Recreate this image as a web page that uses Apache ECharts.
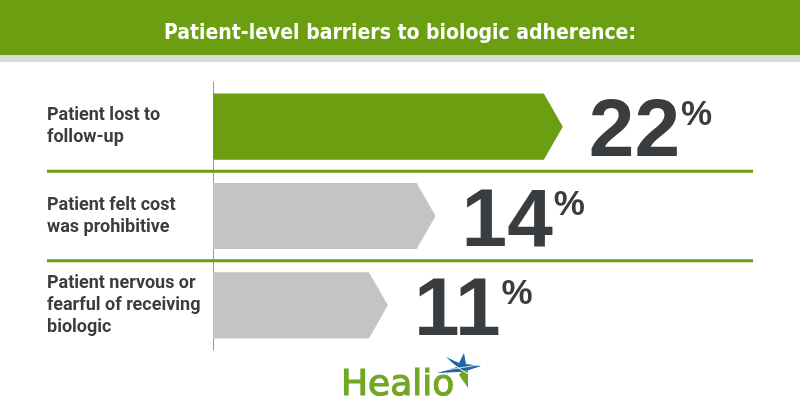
<!DOCTYPE html>
<html><head><meta charset="utf-8">
<script src="https://cdn.jsdelivr.net/npm/echarts@6/dist/echarts.min.js"></script>
<style>html,body{margin:0;padding:0;background:#fff}#c{width:800px;height:420px}</style>
</head><body><div id="c"></div>
<script>
// ---- data ----
const titleText = 'Patient-level barriers to biologic adherence:';
const categories = [
  'Patient lost to\nfollow-up',
  'Patient felt cost\nwas prohibitive',
  'Patient nervous or\nfearful of receiving\nbiologic'
];
const values = [22, 14, 11];
const brandText = 'Healio';

// ---- styles ----
const GREEN = '#6b9e11';
const GRAY = '#c4c4c4';
const DARK = '#3a3d3f';
const LOGO_GREEN = '#72a725';
const LOGO_BLUE = '#1f65a8';
const NUM_FONT = 'bold 82px "Liberation Sans"';

const measureCtx = document.createElement('canvas').getContext('2d');
function textWidth(str, font) { measureCtx.font = font; return measureCtx.measureText(str).width; }

const chart = echarts.init(document.getElementById('c'), null, {renderer: 'canvas'});

function renderItem(params, api) {
  const i = params.dataIndex;
  const v = api.value(0);
  const cat = api.value(1);
  const base = api.coord([0, cat]);
  const tip = api.coord([v, cat]);
  const band = api.size([0, 1])[1];
  const h = band * 0.74;
  const cy = tip[1], x0 = base[0], xt = tip[0], d = 19;
  const numX = xt + 26;
  const numW = textWidth(String(v), NUM_FONT);
  const children = [
    {
      type: 'polygon',
      shape: {points: [[x0, cy - h / 2], [xt - d, cy - h / 2], [xt, cy], [xt - d, cy + h / 2], [x0, cy + h / 2]]},
      style: {fill: i === 0 ? GREEN : GRAY}
    },
    {
      type: 'text',
      x: numX, y: cy + 7,
      style: {text: String(v), font: NUM_FONT, fill: DARK, align: 'left', verticalAlign: 'middle'}
    },
    {
      type: 'text',
      x: numX + numW + 1, y: cy - 11,
      style: {text: '%', font: 'bold 35px "Liberation Sans"', fill: DARK, align: 'left', verticalAlign: 'middle'}
    }
  ];
  if (i < values.length - 1) {
    children.push({
      type: 'line',
      shape: {x1: 47, y1: cy + band / 2, x2: 753, y2: cy + band / 2},
      style: {stroke: GREEN, lineWidth: 3}
    });
  }
  return {type: 'group', children};
}

const option = {
  animation: false,
  backgroundColor: '#ffffff',
  title: {
    text: titleText,
    left: 'center', top: 18,
    textStyle: {color: '#ffffff', fontSize: 21, fontWeight: 'bold', fontFamily: '"Liberation Sans Narrow", "DejaVu Sans Condensed", Roboto, sans-serif'}
  },
  grid: {left: 213, right: 110, top: 82, bottom: 70},
  xAxis: {type: 'value', min: 0, max: 30, show: false},
  yAxis: {
    type: 'category', inverse: true, data: categories,
    axisLine: {show: true, lineStyle: {color: '#9a9a9a', width: 1}},
    axisTick: {show: false},
    splitLine: {show: false},
    axisLabel: {
      align: 'left', margin: 166,
      fontFamily: 'Roboto', fontWeight: 'bold', fontSize: 18, lineHeight: 22, color: DARK
    }
  },
  series: [{
    type: 'custom',
    renderItem: renderItem,
    encode: {x: 0, y: 1},
    data: values.map((v, i) => [v, i]),
    z: 1
  }],
  graphic: [
    {type: 'rect', shape: {x: 0, y: 0, width: 800, height: 55}, style: {fill: GREEN}, z: -10},
    {type: 'rect', shape: {x: 0, y: 55, width: 800, height: 7}, style: {fill: '#dadada'}, z: -10},
    {type: 'text', x: 341, y: 386, style: {text: brandText, fill: LOGO_GREEN, stroke: LOGO_GREEN, lineWidth: 1.2, fontSize: 36, fontFamily: '"DejaVu Sans", sans-serif', verticalAlign: 'middle', align: 'left'}},
    {type: 'polygon', shape: {points: [[464, 353], [466, 364], [481, 366], [466, 371], [459, 372], [437, 373], [457, 367], [446, 357], [459, 363]]}, style: {fill: LOGO_BLUE}},
    {type: 'polygon', shape: {points: [[462, 371], [468, 370], [468, 388], [459, 375]]}, style: {fill: LOGO_GREEN}},
    {type: 'line', shape: {x1: 446, y1: 360, x2: 476, y2: 379}, style: {stroke: '#ffffff', lineWidth: 1}},
    {type: 'line', shape: {x1: 440, y1: 371, x2: 478, y2: 365}, style: {stroke: '#ffffff', lineWidth: 0.8}}
  ]
};
chart.setOption(option);
</script>
</body></html>
